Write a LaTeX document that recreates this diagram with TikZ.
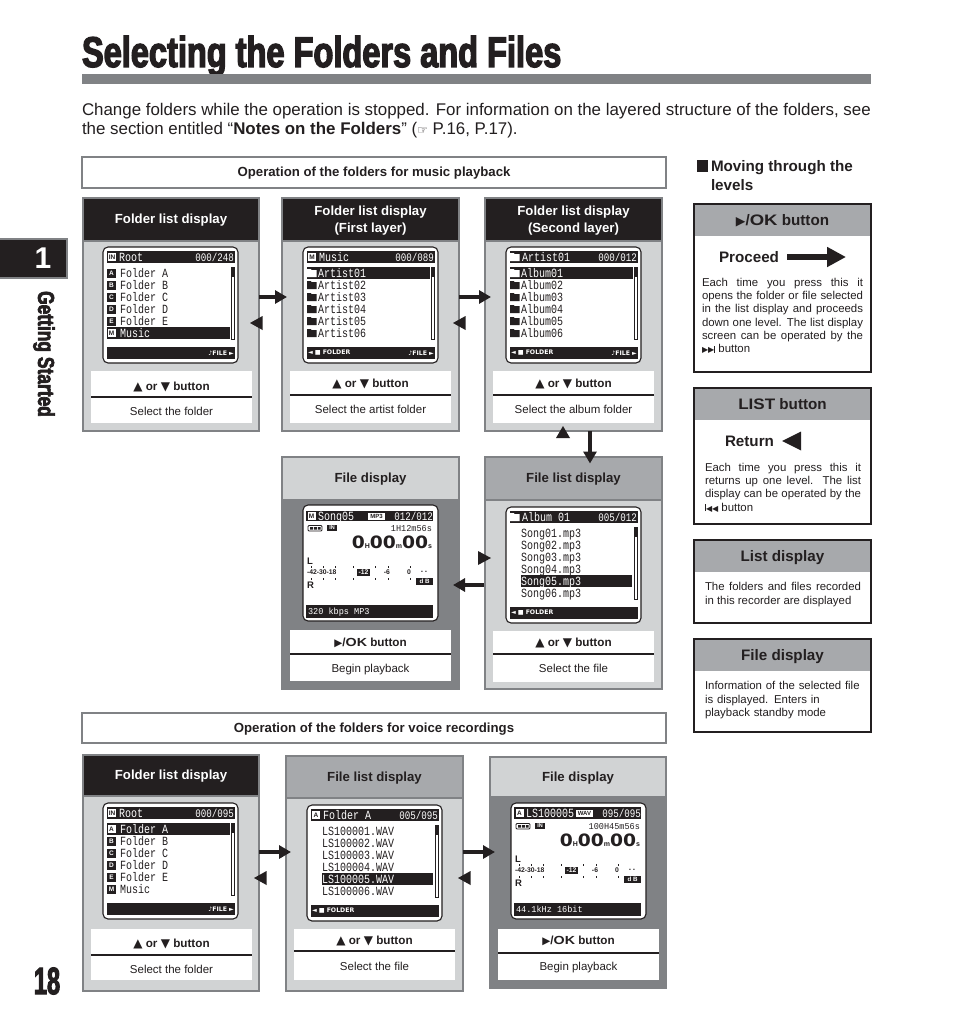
\documentclass[tikz,border=0pt]{standalone}
\usepackage{fontspec}
\usetikzlibrary{arrows.meta}
\setmainfont{Liberation Sans}
\newfontfamily\symf{DejaVu Sans}
\newfontfamily\lcdf[FakeStretch=0.8]{Liberation Mono}
\newfontfamily\lcdsf[FakeStretch=0.95]{Liberation Mono}
\newfontfamily\titlef[FakeStretch=0.757,BoldFeatures={FakeBold=3}]{Liberation Sans}
\newfontfamily\bigf[FakeStretch=1.1]{DejaVu Sans}
\newcommand\fs[1]{\fontsize{#1}{#1}\selectfont}
\hyphenpenalty=10000
\exhyphenpenalty=10000
\definecolor{ink}{HTML}{231F20}
\definecolor{edge}{HTML}{808285}
\definecolor{pale}{HTML}{D1D3D4}
\definecolor{mid}{HTML}{A7A9AC}
\newcount\autonode
\tikzset{
  x=1pt,y=-1pt,
  autoname/.code={\global\advance\autonode by 1\relax\tikzset{name=an\the\autonode}},
  boxbase/.style={inner sep=0,outer sep=0,anchor=north west},
  panelbody/.style={boxbase,draw=edge,line width=1.8pt},
  panelhead/.style={boxbase,draw=edge,line width=1.8pt},
  whitebox/.style={boxbase,fill=white},
  screenbox/.style={boxbase,fill=white,draw=ink,line width=1.1pt,rounded corners=5pt,minimum width=135pt,minimum height=116pt},
  opbox/.style={boxbase,fill=white,draw=edge,line width=1.3pt},
  infobox/.style={boxbase,fill=white,draw=ink,line width=1.8pt},
  infohead/.style={boxbase,fill=mid},
  txt/.style={autoname,inner sep=0,outer sep=0,text=ink},
  headtxt/.style={txt,font=\bfseries\fs{13.2},align=center,yshift=-1pt},
  optxt/.style={txt,font=\bfseries\fs{13.2},yshift=-1pt},
  btntxt/.style={txt,font=\bfseries\fs{11.7},text height=8.5pt,text depth=0pt},
  subtxt/.style={txt,font=\fs{11.5},text height=8pt,text depth=0pt},
  infotitle/.style={txt,font=\bfseries\fs{15.2},text height=10.5pt,text depth=0pt},
  infotxt/.style={txt,anchor=north west,font=\fontsize{11.4}{13.3}\selectfont,align=justify},
  infoleft/.style={txt,anchor=north west,font=\fontsize{11.4}{13.6}\selectfont,align=left},
  lcdtxt/.style={txt,anchor=west,font=\lcdf\fs{12.5},text height=8pt,text depth=0pt},
  lcdsmall/.style={txt,anchor=west,font=\lcdsf\fs{9},text height=6pt,text depth=0pt},
  tiny/.style={txt,anchor=west,font=\symf\bfseries\fs{6.2}},
  flow/.style={draw=ink,fill=ink,line width=4.4pt,-{Triangle[length=12pt,width=13pt]}},
  flowbig/.style={draw=ink,line width=6pt,-{Triangle[length=19pt,width=19pt]}},
}
\newcommand\up{{\symf\fs{12}▲}}
\newcommand\dn{{\symf\fs{12}▼}}
\newcommand\updn{\up\ or \dn\ button}
\newcommand\okb{{\symf\fs{10.5}▶}/\scalebox{1.22}[1]{OK}\ button}
\newcommand\okbig{{\symf\fs{12.5}▶}/\scalebox{1.22}[1]{OK}\ button}
% panel: name x y w h headheight headfill bodyfill text
\newcommand\panel[9]{%
  \node[panelbody,fill=#8,minimum width=#4pt,minimum height=#5pt] (#1) at (#2,#3) {};
  \node[panelhead,fill=#7,minimum width=#4pt,minimum height=#6pt] (#1h) at (#2,#3) {};
  \node[headtxt,#9] at (#1h) {\headtext};}
\newcommand\headtext{}
% button block: name x top height lineY txt1Y txt2Y txt1 txt2
\newcommand\btn[9]{%
  \node[whitebox,minimum width=161pt,minimum height=#4pt] (#1) at (#2,#3) {};
  \draw[ink,line width=1.2pt] (#1.west |- 0,#5) -- (#1.east |- 0,#5);
  \node[btntxt] at (#1.center |- 0,#6) {#8};
  \node[subtxt] at (#1.center |- 0,#7) {#9};}
% LCD helpers (inside a shifted scope)
\newcommand\lcd[4][]{\node[lcdtxt,#1] at (#2,#3) {#4};}
\newcommand\icoW[3]{\node[txt,fill=white,text=ink,minimum size=8pt,font=\bfseries\fs{6.5}] at (#1,#2) {#3};}
\newcommand\icoK[3]{\node[txt,fill=ink,text=white,minimum size=9pt,font=\bfseries\fs{6.5}] at (#1,#2) {#3};}
\newcommand\fold[3]{\fill[#3] (#1,#2-4) -- (#1+3.5,#2-4) -- (#1+4.5,#2-3) -- (#1+9.5,#2-3) -- (#1+9.5,#2+4) -- (#1,#2+4) -- cycle;}
\newcommand\listtop[3]{\fill[ink] (4,4) rectangle (132,16); #1
  \lcd[text=white]{16}{10}{#2}
  \lcd[text=white,anchor=east,font=\lcdf\fs{11.5}]{131}{10}{#3}}
\newcommand\hl[3]{\fill[ink] (#1,{14+12*#3-6}) rectangle (#2,{14+12*#3+6});}
\newcommand\frow[3]{\icoK{8.5}{14+12*#1}{#2}\lcd{17}{14+12*#1}{#3}}
\newcommand\frowH[3]{\hl{4}{127}{#1}\icoW{8.5}{14+12*#1}{#2}\lcd[text=white]{17}{14+12*#1}{#3}}
\newcommand\arow[2]{\fold{4}{14+12*#1}{ink}\lcd{15}{14+12*#1}{#2}}
\newcommand\arowH[2]{\hl{4}{127}{#1}\fold{4}{14+12*#1}{white}\lcd[text=white]{15}{14+12*#1}{#2}}
\newcommand\srow[2]{\lcd{15}{14+12*#1}{#2}}
\newcommand\srowH[2]{\hl{15}{126}{#1}\lcd[text=white]{15}{14+12*#1}{#2}}
\newcommand\sbar{\draw[ink,line width=.7pt] (128.5,20) rectangle (131,92); \fill[ink] (128,20) rectangle (131.5,30);}
\newcommand\footbar{\fill[ink] (4,100) rectangle (132,112);}
\newcommand\footL{\node[tiny,text=white] at (5,106) {◄\,\,■\,\,FOLDER};}
\newcommand\footR{\node[tiny,text=white,anchor=east] at (131,106) {♪FILE\,\,►};}
\newcommand\filescr[7]{%
  \fill[ink] (3,#1) rectangle (130,16); #2
  \lcd[text=white]{15}{{(#1+16)/2}}{#3}
  \node[txt,fill=white,text=ink,minimum width=17pt,minimum height=7pt,font=\bfseries\fs{6}] at (73.5,{(#1+16)/2}) {#4};
  \lcd[text=white,anchor=east,font=\lcdf\fs{11.5}]{130}{{(#1+16)/2}}{#5}
  \draw[ink,line width=.9pt,rounded corners=1pt] (5,20.5) rectangle (19,26);
  \fill[ink] (7,22) rectangle (10,24.5) (11,22) rectangle (14,24.5) (15,22) rectangle (17.5,24.5);
  \node[txt,fill=ink,text=white,minimum width=10pt,minimum height=6pt,font=\bfseries\fs{5.5}] at (29,23) {IN};
  \node[lcdsmall,anchor=east] at (129,23) {#6};
  \node[txt,anchor=east] at (129,37) {{\bigf\bfseries\fs{17}0}{\bfseries\fs{7}H}{\bigf\bfseries\fs{17}00}{\bfseries\fs{7}m}{\bigf\bfseries\fs{17}00}{\bfseries\fs{7}s}};
  \node[txt,anchor=west,font=\bfseries\fs{9.5}] at (4,56) {L};
  \node[txt,anchor=west,font=\bfseries\fs{9.5}] at (4,80) {R};
  \foreach \tx in {8,20,32,50,72,85,107}{\fill[ink] (\tx,60.5) rectangle (\tx+1,62.5); \fill[ink] (\tx,72.5) rectangle (\tx+1,74.5);}
  \node[txt,anchor=west,font=\bfseries\fs{6.8}] at (4,67.5) {-42-30-18};
  \node[txt,fill=ink,text=white,minimum width=13pt,minimum height=7pt,font=\bfseries\fs{6.8}] at (60.5,67.5) {-12};
  \node[txt,font=\bfseries\fs{6.8}] at (84,67.5) {-6};
  \node[txt,font=\bfseries\fs{6.8}] at (106,67.5) {0};
  \node[txt,font=\bfseries\fs{6.8}] at (121,67.5) {- -};
  \node[txt,fill=ink,text=white,minimum width=17pt,minimum height=7pt,font=\bfseries\fs{6.2}] at (121.5,76) {d B};
  \fill[ink] (3,100) rectangle (130,112.5);
  \node[lcdsmall,text=white] at (5,106) {#7};}
\begin{document}
\begin{tikzpicture}
\useasboundingbox (0,0) rectangle (954,1022);
\fill[white] (0,0) rectangle (954,1022);

% page head
\node[txt,anchor=base west,font=\titlef\bfseries\fs{43}] (title) at (82,67) {Selecting the Folders and Files};
\fill[edge] (82,74) rectangle (871,84);
\node[txt,anchor=base west,font=\fs{16.9}] (intro1) at (82,116) {Change folders while the operation is stopped. For information on the layered structure of the folders, see};
\node[txt,anchor=base west,font=\fs{16.9}] (intro2) at (82,135) {the section entitled “\textbf{Notes on the Folders}” ({\symf\fs{12}☞} P.16, P.17).};

% chapter tab
\fill[edge] (0,238) rectangle (68,279);
\node[boxbase,fill=ink,minimum width=66pt,minimum height=37pt] (tab) at (0,240) {};
\node[txt,text=white,font=\bfseries\fs{30}] at (43,258) {1};
\node[txt,rotate=-90,font=\titlef\bfseries\fs{23}] at (44,354) {Getting Started};
\node[txt,font=\titlef\bfseries\fs{38}] at (47,981) {\scalebox{0.82}[1]{18}};

% section bars
\node[opbox,minimum width=584pt,minimum height=31pt] (op1) at (82,157) {};
\node[optxt] at (op1) {Operation of the folders for music playback};
\node[opbox,minimum width=584pt,minimum height=30pt] (op2) at (82,713) {};
\node[optxt] at (op2) {Operation of the folders for voice recordings};

% panels
\renewcommand\headtext{Folder list display}
\panel{p1}{83}{198}{176}{233}{43}{ink}{pale}{text=white}
\renewcommand\headtext{Folder list display\\[3pt](First layer)}
\panel{p2}{282}{198}{177}{233}{43}{ink}{pale}{text=white}
\renewcommand\headtext{Folder list display\\[3pt](Second layer)}
\panel{p3}{485}{198}{177}{233}{43}{ink}{pale}{text=white}
\renewcommand\headtext{File display}
\panel{p4}{282}{457}{177}{232}{43}{pale}{edge}{}
\renewcommand\headtext{File list display}
\panel{p5}{485}{457}{177}{232}{43}{mid}{pale}{}
\renewcommand\headtext{Folder list display}
\panel{p6}{83}{755}{176}{236}{41}{ink}{pale}{text=white}
\renewcommand\headtext{File list display}
\panel{p7}{286}{756}{177}{235}{42}{mid}{pale}{}
\renewcommand\headtext{File display}
\panel{p8}{490}{757}{176}{231}{40}{pale}{edge}{}

% buttons
\btn{b1}{91}{371}{52}{397}{386}{411}{\updn}{Select the folder}
\btn{b2}{290}{371}{52}{395}{383}{409}{\updn}{Select the artist folder}
\btn{b3}{493}{371}{52}{395}{383}{409}{\updn}{Select the album folder}
\btn{b4}{290}{630}{51}{654}{642}{668}{\okb}{Begin playback}
\btn{b5}{493}{631}{51}{654}{642}{668}{\updn}{Select the file}
\btn{b6}{91}{929}{51}{955}{943}{969}{\updn}{Select the folder}
\btn{b7}{294}{929}{51}{951}{940}{966}{\updn}{Select the file}
\btn{b8}{498}{929}{51}{953}{940}{966}{\okb}{Begin playback}

% screen 1
\begin{scope}[shift={(103,247)}]
\node[screenbox] (s1) at (0,0) {};
\listtop{\fill[ink] (4,6) rectangle (14,14);\icoW{9}{10}{IN}}{Root}{000/248}
\frow{1}{A}{Folder A}\frow{2}{B}{Folder B}\frow{3}{C}{Folder C}\frow{4}{D}{Folder D}\frow{5}{E}{Folder E}\frowH{6}{M}{Music}
\sbar\footbar\footR
\end{scope}
% screen 2
\begin{scope}[shift={(303,247)}]
\node[screenbox] (s2) at (0,0) {};
\listtop{\icoW{9}{10}{M}}{Music}{000/089}
\arowH{1}{Artist01}\arow{2}{Artist02}\arow{3}{Artist03}\arow{4}{Artist04}\arow{5}{Artist05}\arow{6}{Artist06}
\sbar\footbar\footL\footR
\end{scope}
% screen 3
\begin{scope}[shift={(506,247)}]
\node[screenbox] (s3) at (0,0) {};
\listtop{\fold{4}{10}{white}}{Artist01}{000/012}
\arowH{1}{Album01}\arow{2}{Album02}\arow{3}{Album03}\arow{4}{Album04}\arow{5}{Album05}\arow{6}{Album06}
\sbar\footbar\footL\footR
\end{scope}
% screen 4 (file display)
\begin{scope}[shift={(303,505)}]
\node[screenbox] (s4) at (0,0) {};
\filescr{6}{\icoW{8.5}{11}{M}}{Song05}{MP3}{012/012}{1H12m56s}{320 kbps MP3}
\end{scope}
% screen 5 (file list)
\begin{scope}[shift={(506,507)}]
\node[screenbox] (s5) at (0,0) {};
\listtop{\fold{4}{10}{white}}{Album 01}{005/012}
\srow{1}{Song01.mp3}\srow{2}{Song02.mp3}\srow{3}{Song03.mp3}\srow{4}{Song04.mp3}\srowH{5}{Song05.mp3}\srow{6}{Song06.mp3}
\sbar\footbar\footL
\end{scope}
% screen 6
\begin{scope}[shift={(103,803)}]
\node[screenbox] (s6) at (0,0) {};
\listtop{\fill[ink] (4,6) rectangle (14,14);\icoW{9}{10}{IN}}{Root}{000/095}
\frowH{1}{A}{Folder A}\frow{2}{B}{Folder B}\frow{3}{C}{Folder C}\frow{4}{D}{Folder D}\frow{5}{E}{Folder E}\frow{6}{M}{Music}
\sbar\footbar\footR
\end{scope}
% screen 7
\begin{scope}[shift={(307,805)}]
\node[screenbox] (s7) at (0,0) {};
\listtop{\icoW{9}{10}{A}}{Folder A}{005/095}
\srow{1}{LS100001.WAV}\srow{2}{LS100002.WAV}\srow{3}{LS100003.WAV}\srow{4}{LS100004.WAV}\srowH{5}{LS100005.WAV}\srow{6}{LS100006.WAV}
\sbar\footbar\footL
\end{scope}
% screen 8
\begin{scope}[shift={(511,803)}]
\node[screenbox] (s8) at (0,0) {};
\filescr{4}{\icoW{8.5}{10}{A}}{LS100005}{WAV}{095/095}{100H45m56s}{44.1kHz  16bit}
\end{scope}

% connectors between panels
\coordinate (d3) at (590,431);
\coordinate (d5) at (590,463.5);
\draw[flow] (p1.east |- 0,297) -- ([xshift=5pt]p2.west |- 0,297);
\draw[flow] (p2.east |- 0,297) -- ([xshift=6pt]p3.west |- 0,297);
\draw[flow] (d3) -- (d5);
\draw[flow] ([xshift=-1pt]p5.west |- 0,585) -- ([xshift=-6pt]p4.east |- 0,585);
\draw[flow] (p6.east |- 0,852) -- ([xshift=5pt]p7.west |- 0,852);
\draw[flow] (p7.east |- 0,852) -- ([xshift=5pt]p8.west |- 0,852);
% return markers
\newcommand\triL[2]{\fill[ink] (#1,#2) -- (#1+12.5,#2-7) -- (#1+12.5,#2+7) -- cycle;}
\triL{250}{323}\triL{453}{323}\triL{254}{878}\triL{458}{878}
\fill[ink] (563,426) -- (570,438) -- (556,438) -- cycle;
\fill[ink] (491,558) -- (478,551) -- (478,565) -- cycle;

% right column
\fill[ink] (697,160) rectangle (708,172);
\node[txt,anchor=base west,font=\bfseries\fs{15.2}] at (711,171) {Moving through the};
\node[txt,anchor=base west,font=\bfseries\fs{15.2}] at (711,190) {levels};

\node[infobox,minimum width=177pt,minimum height=168pt] (i1) at (694,204) {};
\node[infohead,minimum width=175pt,minimum height=31pt] (i1h) at (695,205) {};
\node[infotitle] at (i1h) {\okbig};
\node[infotitle,anchor=west] at (719,257) {Proceed};
\coordinate (prA) at (787,257); \coordinate (prB) at (846,257);
\draw[flowbig] (prA) -- (prB);
\node[infotxt,text width=161pt] at (702,278) {Each time you press this it\linebreak opens the folder or file selected\linebreak in the list display and proceeds\linebreak down one level. The list display\linebreak screen can be operated by the\linebreak {\symf\fs{8}▶▶}\rule{1pt}{7pt} button};

\node[infobox,minimum width=177pt,minimum height=136pt] (i2) at (694,388) {};
\node[infohead,minimum width=175pt,minimum height=31pt] (i2h) at (695,389) {};
\node[infotitle] at (i2h) {\scalebox{1.12}[1]{LIST} button};
\node[infotitle,anchor=west] at (725,441) {Return};
\fill[ink] (782,441) -- (801,431.5) -- (801,450.5) -- cycle;
\node[infotxt,text width=156pt] at (705,463) {Each time you press this it\linebreak returns up one level. The list\linebreak display can be operated by the\linebreak \rule{1pt}{7pt}{\symf\fs{8}◀◀} button};

\node[infobox,minimum width=177pt,minimum height=83pt] (i3) at (694,540) {};
\node[infohead,minimum width=175pt,minimum height=31pt] (i3h) at (695,541) {};
\node[infotitle] at (i3h) {List display};
\node[infotxt,text width=156pt] at (705,582.5) {The folders and files recorded in this recorder are displayed};

\node[infobox,minimum width=177pt,minimum height=93pt] (i4) at (694,639) {};
\node[infohead,minimum width=175pt,minimum height=31pt] (i4h) at (695,640) {};
\node[infotitle] at (i4h) {File display};
\node[infoleft,text width=156pt] at (705,681.5) {Information of the selected file\\is displayed. Enters in\\playback standby mode};
\end{tikzpicture}
\end{document}
